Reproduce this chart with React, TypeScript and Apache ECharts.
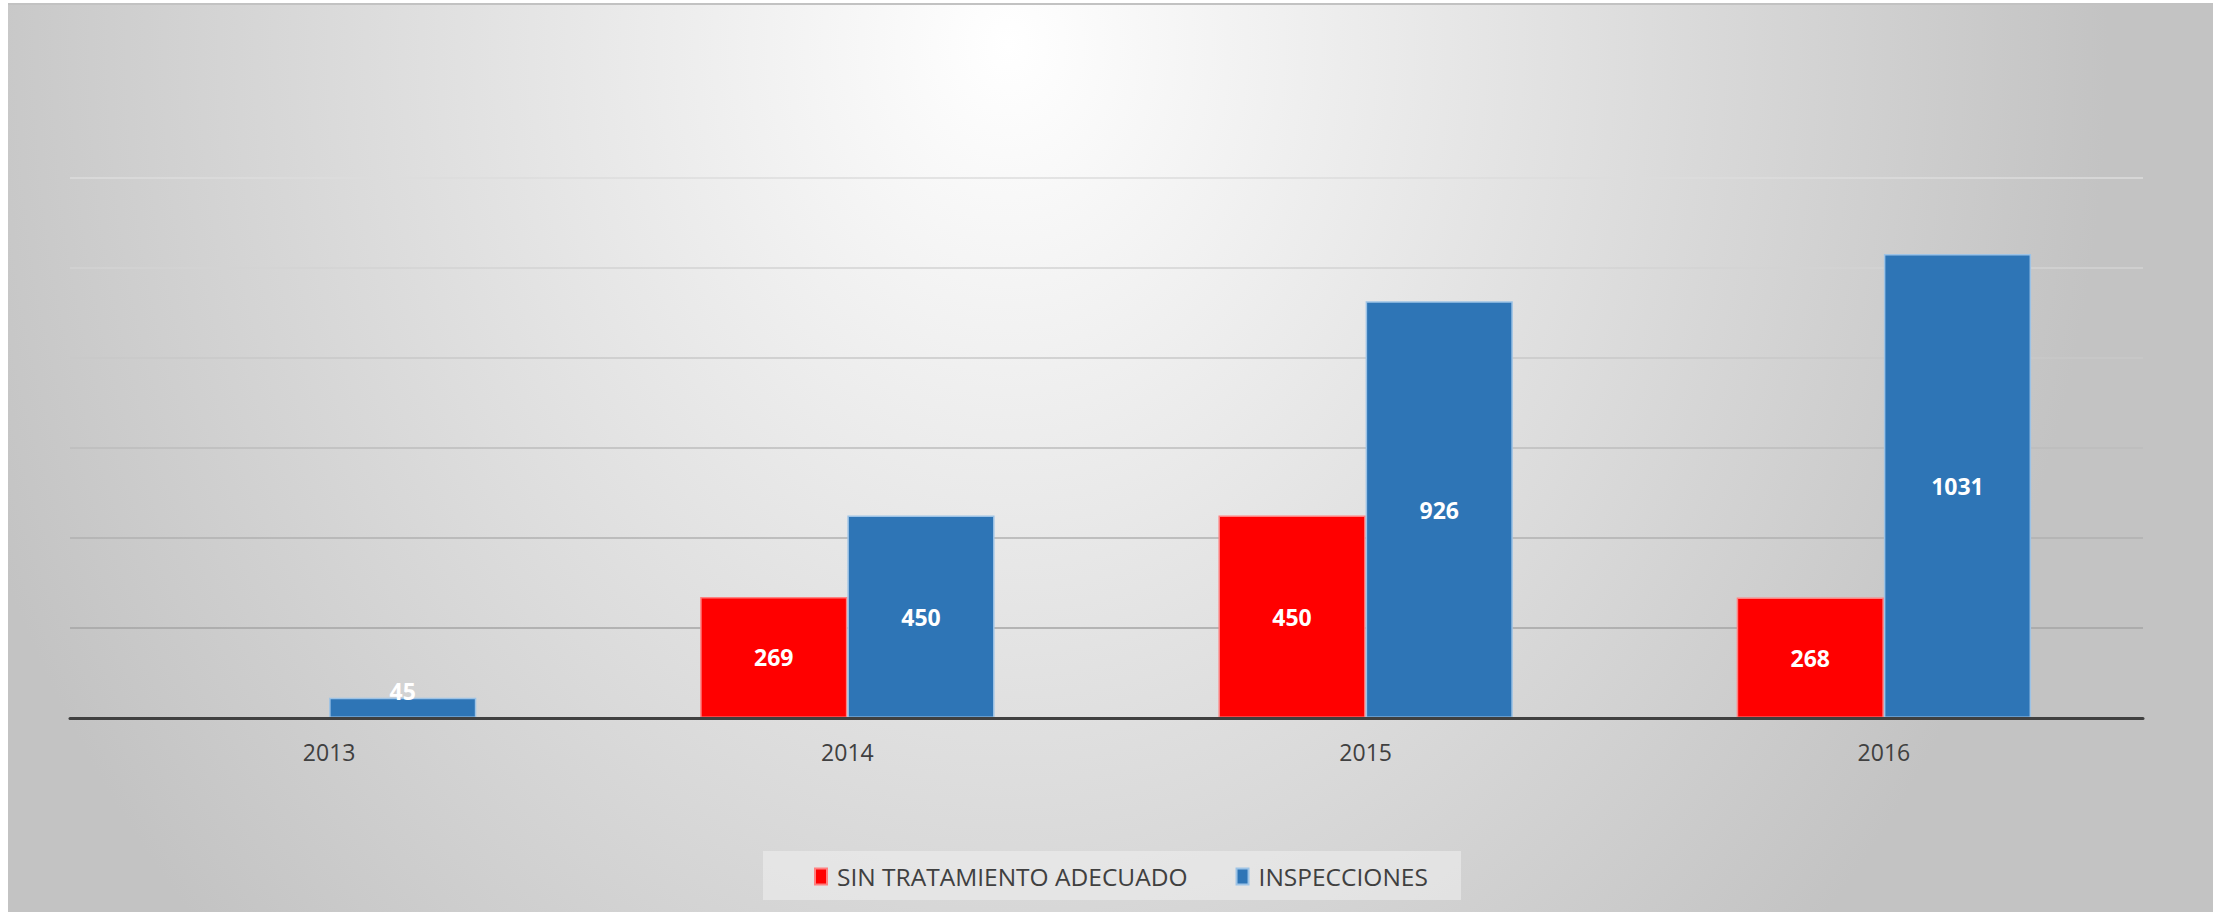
import React, { useEffect, useRef } from 'react';
import * as echarts from 'echarts';

const years: string[] = ['2013', '2014', '2015', '2016'];
const seriesNames: string[] = ['SIN TRATAMIENTO ADECUADO', 'INSPECCIONES'];
const sinTratamiento: (number | string)[] = ['-', 269, 450, 268];
const inspecciones: number[] = [45, 450, 926, 1031];
const yMin = 0;
const yMax = 1200;
const yInterval = 200;
const gridColors: string[] = ['#9a9a9a', '#a4a4a4', '#b0b0b0', '#bcbcbc', '#c8c8c8', '#d3d3d3', '#dcdcdc'];

const W = 2205;
const H = 907;

export default function App() {
  const ref = useRef<HTMLDivElement>(null);

  useEffect(() => {
    if (!ref.current) return;
    const chart = echarts.init(ref.current, undefined, { renderer: 'svg', width: W, height: H });

    const labelBase = {
      show: true,
      position: 'inside',
      color: '#ffffff',
      fontFamily: "'Open Sans', sans-serif",
      fontWeight: 'bold',
      fontSize: 23,
    };

    const blueData = inspecciones.map((v) =>
      v < 100 ? { value: v, label: { position: 'top', distance: -5 } } : v
    );

    chart.setOption({
      animation: false,
      backgroundColor: 'transparent',
      grid: { left: 62, right: 70, top: 173, bottom: 194, containLabel: false },
      graphic: [
        {
          type: 'rect',
          z: -10,
          shape: { x: 755, y: 846, width: 698, height: 49 },
          style: { fill: 'rgba(240,240,240,0.55)' },
        },
      ],
      legend: {
        show: true,
        left: 806,
        top: 859,
        padding: 0,
        itemWidth: 12,
        itemHeight: 16,
        itemGap: 48,
        icon: 'rect',
        textStyle: {
          color: '#404040',
          fontSize: 24.5,
          fontFamily: "'Open Sans', sans-serif",
          padding: [0, 0, 0, 5],
        },
        data: seriesNames,
      },
      xAxis: {
        type: 'category',
        data: years,
        axisLine: { show: true, lineStyle: { color: '#404040', width: 3 } },
        axisTick: { show: false },
        axisLabel: {
          color: '#404040',
          fontSize: 23,
          fontFamily: "'Open Sans', sans-serif",
          margin: 22,
        },
        z: 5,
      },
      yAxis: {
        type: 'value',
        min: yMin,
        max: yMax,
        interval: yInterval,
        axisLine: { show: false },
        axisTick: { show: false },
        axisLabel: { show: false },
        splitLine: { show: true, lineStyle: { color: gridColors, width: 1.5 } },
      },
      series: [
        {
          name: seriesNames[0],
          type: 'bar',
          data: sinTratamiento,
          barGap: '0%',
          barCategoryGap: '43.2%',
          itemStyle: { color: '#ff0000', borderColor: '#ff8080', borderWidth: 1.5 },
          label: labelBase,
        },
        {
          name: seriesNames[1],
          type: 'bar',
          data: blueData,
          barGap: '0%',
          barCategoryGap: '43.2%',
          itemStyle: { color: '#2e75b6', borderColor: '#9dc3e6', borderWidth: 1.5 },
          label: labelBase,
        },
      ],
    });

    return () => {
      chart.dispose();
    };
  }, []);

  return (
    <div>
      <div
        style={{
          position: 'absolute',
          left: 8,
          top: 3,
          width: W,
          height: 2,
          background: '#c2c2c2',
        }}
      />
      <div
        style={{
          position: 'absolute',
          left: 8,
          top: 5,
          width: W,
          height: H,
          background:
            'radial-gradient(1100px 1300px at 1000px 40px, #ffffff 0%, #c3c3c3 100%)',
          overflow: 'hidden',
        }}
      >
        <div ref={ref} style={{ width: W, height: H }} />
      </div>
    </div>
  );
}
